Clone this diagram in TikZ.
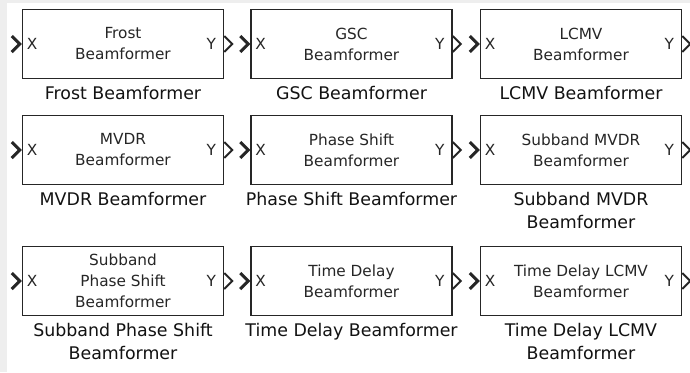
\documentclass[tikz,border=0pt]{standalone}
\usepackage{fontspec}
\setmainfont{DejaVu Sans}
\definecolor{boxc}{HTML}{262626}
\definecolor{inc}{HTML}{262626}
\definecolor{lblc}{HTML}{121212}
\definecolor{bgg}{HTML}{EEEEEE}
\begin{document}
\begin{tikzpicture}[x=1pt,y=-1pt,
  blk/.style={draw=boxc, line width=1.5pt, minimum width=201pt, minimum height=69pt,
    align=center, inner sep=0pt, text=inc, font=\fontsize{15.3}{21}\selectfont},
  port/.style={text=inc, font=\fontsize{15.3}{18}\selectfont, inner sep=0pt},
  lbl/.style={anchor=north, align=center, inner sep=0pt, text=lblc,
    font=\fontsize{17.4}{23}\selectfont, yshift=-7pt},
  inp/.style={draw=boxc, line width=3pt},
  outp/.style={draw=boxc, line width=2pt}]
\fill[white] (0,0) rectangle (690,372);
\fill[bgg] (0,0) rectangle (690,3);
\fill[bgg] (0,0) rectangle (7,372);
\useasboundingbox (0,0) rectangle (690,372);

% row 1
\node[blk] (b1) at (123,44) {Frost\\Beamformer};
\node[blk] (b2) at (351.5,44) {GSC\\Beamformer};
\node[blk] (b3) at (581,44) {LCMV\\Beamformer};
% row 2
\node[blk] (b4) at (123,150) {MVDR\\Beamformer};
\node[blk] (b5) at (351.5,150) {Phase Shift\\Beamformer};
\node[blk] (b6) at (581,150) {Subband MVDR\\Beamformer};
% row 3
\node[blk] (b7) at (123,281) {Subband\\Phase Shift\\Beamformer};
\node[blk] (b8) at (351.5,281) {Time Delay\\Beamformer};
\node[blk] (b9) at (581,281) {Time Delay LCMV\\Beamformer};

% labels
\node[lbl] (l1) at (b1.south) {Frost Beamformer};
\node[lbl] (l2) at (b2.south) {GSC Beamformer};
\node[lbl] (l3) at (b3.south) {LCMV Beamformer};
\node[lbl] (l4) at (b4.south) {MVDR Beamformer};
\node[lbl] (l5) at (b5.south) {Phase Shift Beamformer};
\node[lbl] (l6) at (b6.south) {Subband MVDR\\Beamformer};
\node[lbl] (l7) at (b7.south) {Subband Phase Shift\\Beamformer};
\node[lbl] (l8) at (b8.south) {Time Delay Beamformer};
\node[lbl] (l9) at (b9.south) {Time Delay LCMV\\Beamformer};

% ports
\foreach \b in {b1,b2,b3,b4,b5,b6,b7,b8,b9} {
  \node[port, anchor=west] (\b x) at ([xshift=5pt]\b.west) {X};
  \node[port, anchor=east] (\b y) at ([xshift=-8pt]\b.east) {Y};
  \draw[inp] ([xshift=-10pt,yshift=8pt]\b.west) -- ([xshift=-2pt]\b.west) -- ([xshift=-10pt,yshift=-8pt]\b.west);
  \draw[outp] ([yshift=8pt]\b.east) -- ([xshift=8pt]\b.east) -- ([yshift=-8pt]\b.east);
}
\end{tikzpicture}
\end{document}
